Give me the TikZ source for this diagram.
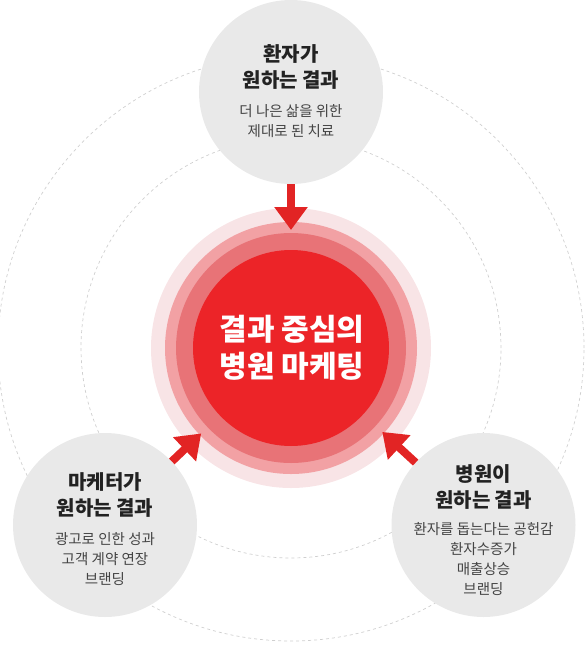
\documentclass[tikz,border=0pt]{standalone}
\usepackage{fontspec}
\setmainfont{Noto Sans CJK KR}
\usetikzlibrary{arrows.meta,calc}
\definecolor{redc}{HTML}{EC2428}
\definecolor{ringa}{HTML}{E87377}
\definecolor{ringb}{HTML}{F2A1A4}
\definecolor{ringc}{HTML}{F8E4E6}
\definecolor{satgray}{HTML}{E9E9E9}
\definecolor{dashgray}{HTML}{CFCFCF}
\definecolor{arrred}{HTML}{E22424}
\definecolor{titlec}{HTML}{222222}
\definecolor{subc}{HTML}{444444}
\tikzset{
  dsh/.style={draw=dashgray, line width=0.7pt, dash pattern=on 3pt off 3pt},
  sat/.style={circle, fill=satgray, minimum size=184pt, inner sep=0pt},
  disc/.style={circle, inner sep=0pt},
  ttl/.style={align=center, text=titlec, font=\bfseries\fontsize{20}{26}\selectfont},
  sub/.style={align=center, text=subc, font=\fontsize{14.5}{20}\selectfont},
  arr/.style={draw=arrred, line width=8pt, -{Triangle[length=23pt,width=32pt]}, arrred}
}
\begin{document}
\begin{tikzpicture}[x=1pt,y=-1pt]
\useasboundingbox (0,0) rectangle (584,648);
% dashed orbits
\draw[dsh] (291,348) circle[radius=293pt];
\draw[dsh] (291,348) circle[radius=210pt];
% central rings
\node[disc, fill=ringc, minimum size=280pt] (c) at (291,348) {};
\node[disc, fill=ringb, minimum size=252pt] (r3) at (291,348) {};
\node[disc, fill=ringa, minimum size=230pt] (r2) at (291,348) {};
\node[disc, fill=redc, minimum size=196pt] (r1) at (291,348) {};
\node[align=center, text=white, font=\bfseries\fontsize{30}{37}\selectfont] (ctext) at (292,348) {결과 중심의\\병원 마케팅};
% satellites
\node[sat] (top) at (291,92) {};
\node[sat] (left) at (105,525) {};
\node[sat] (right) at (483.5,525) {};
% texts
\node[ttl] (topt) at (291,67) {환자가\\원하는 결과};
\node[sub] (tops) at (291,121.5) {더 나은 삶을 위한\\제대로 된 치료};
\node[ttl] (leftt) at (105,495) {마케터가\\원하는 결과};
\node[sub] (lefts) at (105,559) {광고로 인한 성과\\고객 계약 연장\\브랜딩};
\node[ttl] (rightt) at (483.5,487) {병원이\\원하는 결과};
\node[sub] (rights) at (483.5,559) {환자를 돕는다는 공헌감\\환자수증가\\매출상승\\브랜딩};
% arrow tips
\coordinate (tipT) at ($(c.center)!118pt!(top.center)$);
\coordinate (tipL) at ($(c.center)!124pt!(left.center)$);
\coordinate (tipR) at ($(c.center)!124pt!(right.center)$);
\draw[arr] (top) -- (tipT);
\draw[arr] (left) -- (tipL);
\draw[arr] (right) -- (tipR);
\end{tikzpicture}
\end{document}
